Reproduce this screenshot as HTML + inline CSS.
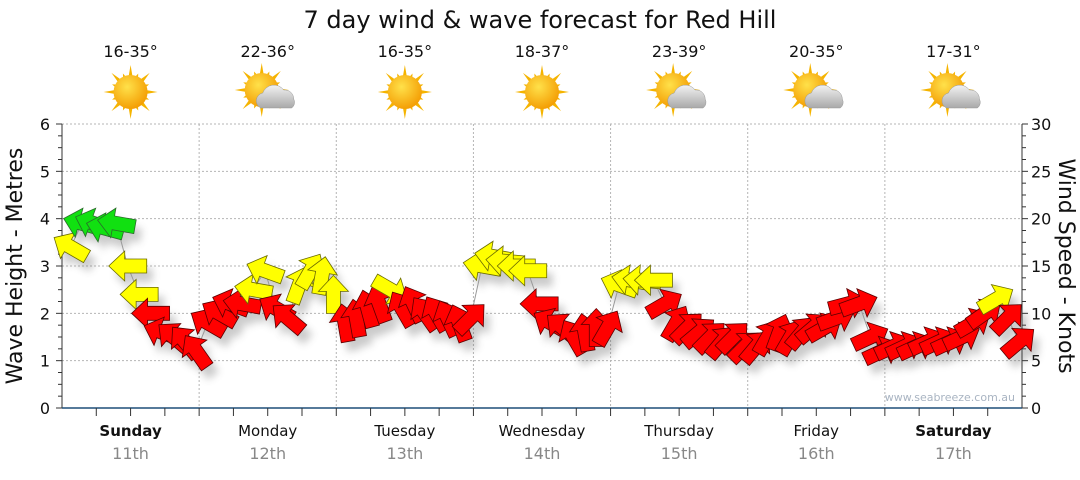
<!DOCTYPE html>
<html><head><meta charset="utf-8">
<style>
html,body{margin:0;padding:0;background:#fff;}
body{width:1080px;height:475px;overflow:hidden;font-family:"Liberation Sans","DejaVu Sans",sans-serif;}
svg text{font-family:"DejaVu Sans","Liberation Sans",sans-serif;}
</style></head>
<body>
<svg id="chart" width="1080" height="475" viewBox="0 0 1080 475" xmlns="http://www.w3.org/2000/svg">
<defs>
<radialGradient id="sunG" cx="40%" cy="35%" r="70%"><stop offset="0" stop-color="#ffe14a"/><stop offset="1" stop-color="#f39a00"/></radialGradient>
<linearGradient id="cloudG" x1="0" y1="0" x2="0" y2="1"><stop offset="0" stop-color="#f2f2f2"/><stop offset="1" stop-color="#a9a9a9"/></linearGradient>
<filter id="shadow" x="-50%" y="-50%" width="200%" height="200%"><feGaussianBlur stdDeviation="4"/></filter>
</defs>
<text x="540" y="28" font-size="24" text-anchor="middle" fill="#111">7 day wind &amp; wave forecast for Red Hill</text>
<g id="grid"></g>
<g id="icons"></g>
<g id="axes"></g>
<g id="shadows" filter="url(#shadow)" opacity="0.3"></g>
<polyline id="waveLine" fill="none" stroke="#999" stroke-width="1"/>
<g id="arrows"></g>
<text x="1015" y="401" font-size="11" text-anchor="end" fill="#a9b4c2">www.seabreeze.com.au</text>
<text transform="translate(22,266) rotate(-90)" font-size="22" text-anchor="middle" fill="#111">Wave Height - Metres</text>
<text transform="translate(1059,266) rotate(90)" font-size="22" text-anchor="middle" fill="#111">Wind Speed - Knots</text>
</svg>
<script>
const days = ["Sunday","Monday","Tuesday","Wednesday","Thursday","Friday","Saturday"];
const dates = ["11th","12th","13th","14th","15th","16th","17th"];
const temps = ["16-35°","22-36°","16-35°","18-37°","23-39°","20-35°","17-31°"];
const cloudy = [0,1,0,0,1,1,1];
const waveTicks = [0,1,2,3,4,5,6];
const windTicks = [0,5,10,15,20,25,30];
// wave heights (m), 2-hourly
const waveHeights = [
3.4,3.9,3.9,3.8,3.9,3.0,2.4,2.0,1.6,1.5,1.4,1.2,
1.8,2.0,2.2,2.2,2.5,2.9,2.1,1.9,2.6,2.9,2.8,2.4,
1.8,1.9,2.1,2.2,2.5,2.1,2.2,2.0,2.0,1.9,1.8,1.9,
3.0,3.2,3.1,3.0,2.9,2.2,1.8,1.7,1.5,1.6,1.7,1.7,
2.6,2.7,2.7,2.7,2.2,1.8,1.7,1.6,1.5,1.4,1.5,1.3,
1.3,1.5,1.6,1.5,1.6,1.7,1.7,1.9,2.2,2.2,1.5,1.2,
1.3,1.3,1.3,1.4,1.4,1.4,1.5,1.8,2.0,2.3,1.9,1.4];
// arrow direction (deg, 0 = pointing right, counter-clockwise)
const windDirs = [
150,165,160,165,170,180,180,180,160,140,130,125,
150,150,160,170,170,160,150,140,70,60,80,90,
100,100,105,110,-30,120,115,125,120,115,110,45,
170,170,175,180,180,180,150,140,120,100,90,60,
160,170,175,180,30,60,45,40,45,50,45,45,
50,60,70,60,50,40,30,20,15,20,25,25,
25,25,25,25,25,25,25,30,35,30,45,40];
// wind class: g = strong, y = moderate, r = light
const windClass = [
"y","g","g","g","g","y","y","r","r","r","r","r",
"r","r","r","r","y","y","r","r","y","y","y","y",
"r","r","r","r","y","r","r","r","r","r","r","r",
"y","y","y","y","y","r","r","r","r","r","r","r",
"y","y","y","y","r","r","r","r","r","r","r","r",
"r","r","r","r","r","r","r","r","r","r","r","r",
"r","r","r","r","r","r","r","r","r","y","r","r"];

const NS="http://www.w3.org/2000/svg";
const X0=62,X1=1022,Y0=408,Y1=124,DAYW=(X1-X0)/7;
const yW=v=>Y0-(v/6)*(Y0-Y1);
const yK=v=>Y0-(v/30)*(Y0-Y1);
const xT=h=>X0+h*DAYW/24;
function mk(tag,attrs,parent){const e=document.createElementNS(NS,tag);for(const k in attrs)e.setAttribute(k,attrs[k]);parent.appendChild(e);return e;}
const grid=document.getElementById('grid'),axes=document.getElementById('axes'),icons=document.getElementById('icons');

waveTicks.forEach(v=>{
  if(v>0){const l=mk('line',{x1:X0,x2:X1,y1:yW(v),y2:yW(v),stroke:'#b5b5b5','stroke-dasharray':'2,2'},grid);
  
  }
  const t=mk('text',{x:50,y:yW(v)+6,'font-size':16,'text-anchor':'end',fill:'#111'},axes);t.textContent=v;
  
  
});
for(let i=0;i<=24;i++){const y=Y0-i*(Y0-Y1)/24;mk('line',{x1:i%4?58:56,x2:X0,y1:y,y2:y,stroke:'#333'},axes);
 mk('line',{x1:X1,x2:i%4?1026:1028,y1:y,y2:y,stroke:'#333'},axes);}
windTicks.forEach(v=>{const t=mk('text',{x:1031,y:yK(v)+6,'font-size':16,fill:'#111'},axes);t.textContent=v;
  
  });
mk('line',{x1:X0,x2:X0,y1:Y1,y2:Y0,stroke:'#333'},axes);
mk('line',{x1:X1,x2:X1,y1:Y1,y2:Y0,stroke:'#333'},axes);
mk('line',{x1:X0,x2:X1,y1:Y0,y2:Y0,stroke:'#1f4e79','stroke-width':1.5},axes);
for(let h=6;h<168;h+=6){mk('line',{x1:xT(h),x2:xT(h),y1:Y0,y2:Y0+8,stroke:'#333'},axes);}
days.forEach((d,i)=>{
  const cx=X0+(i+0.5)*DAYW;
  if(i>0){const l=mk('line',{x1:X0+i*DAYW,x2:X0+i*DAYW,y1:Y1,y2:Y0,stroke:'#b5b5b5','stroke-dasharray':'2,2'},grid);
  
  }
  const t=mk('text',{x:cx,y:436,'font-size':15,'text-anchor':'middle',fill:'#111','font-weight':(i==0||i==6)?'bold':'normal'},axes);t.textContent=d;
  
  
  const t2=mk('text',{x:cx,y:459,'font-size':16,'text-anchor':'middle',fill:'#888'},axes);t2.textContent=dates[i];
  
  
  const t3=mk('text',{x:cx,y:57,'font-size':16,'text-anchor':'middle',fill:'#111'},icons);t3.textContent=temps[i];
  
  
  const g=mk('g',{transform:`translate(${cx-(cloudy[i]?6:0)},${cloudy[i]?90:92})`},icons);
  
  
  for(let a=0;a<16;a++){const r=a%2?20:27;const ang=a*Math.PI/8;
    const p=[[Math.cos(ang)*r,Math.sin(ang)*r],[Math.cos(ang+0.16)*14,Math.sin(ang+0.16)*14],[Math.cos(ang-0.16)*14,Math.sin(ang-0.16)*14]];
    mk('polygon',{points:p.map(q=>q.join(',')).join(' '),fill:'#f5b400'},g);}
  mk('circle',{cx:0,cy:0,r:17,fill:'url(#sunG)'},g);
  if(cloudy[i]){mk('path',{d:'M-4,20 a8,8 0 0 1 2,-15 a12,12 0 0 1 21,-3 a9,9 0 0 1 10,9 a7,7 0 0 1 -2,9 z',fill:'url(#cloudG)',stroke:'#999','stroke-width':0.5,transform:'translate(3,-2)'},g);}
});

const sh=document.getElementById('shadows'),ar=document.getElementById('arrows');
const colors={g:'#11e011',y:'#ffff00',r:'#ff0000'};
const strokes={g:'#2a6b2a',y:'#6b6b00',r:'#5a0000'};
const shape='M-19,-7 L3,-7 L3,-15 L19,0 L3,15 L3,7 L-19,7 Z';
const pts=[];
waveHeights.forEach((v,i)=>{
  const x=xT(i*2+1.5),y=yW(v);pts.push(x.toFixed(1)+','+y.toFixed(1));
  const s=mk('path',{d:shape,fill:'#555',transform:`translate(${x+6},${y+9}) rotate(${-windDirs[i]})`},sh);
  
  
  const a=mk('path',{d:shape,fill:colors[windClass[i]],stroke:strokes[windClass[i]],'stroke-width':0.8,transform:`translate(${x},${y}) rotate(${-windDirs[i]})`},ar);
  
  
});
document.getElementById('waveLine').setAttribute('points',pts.join(' '));
</script>
</body></html>
